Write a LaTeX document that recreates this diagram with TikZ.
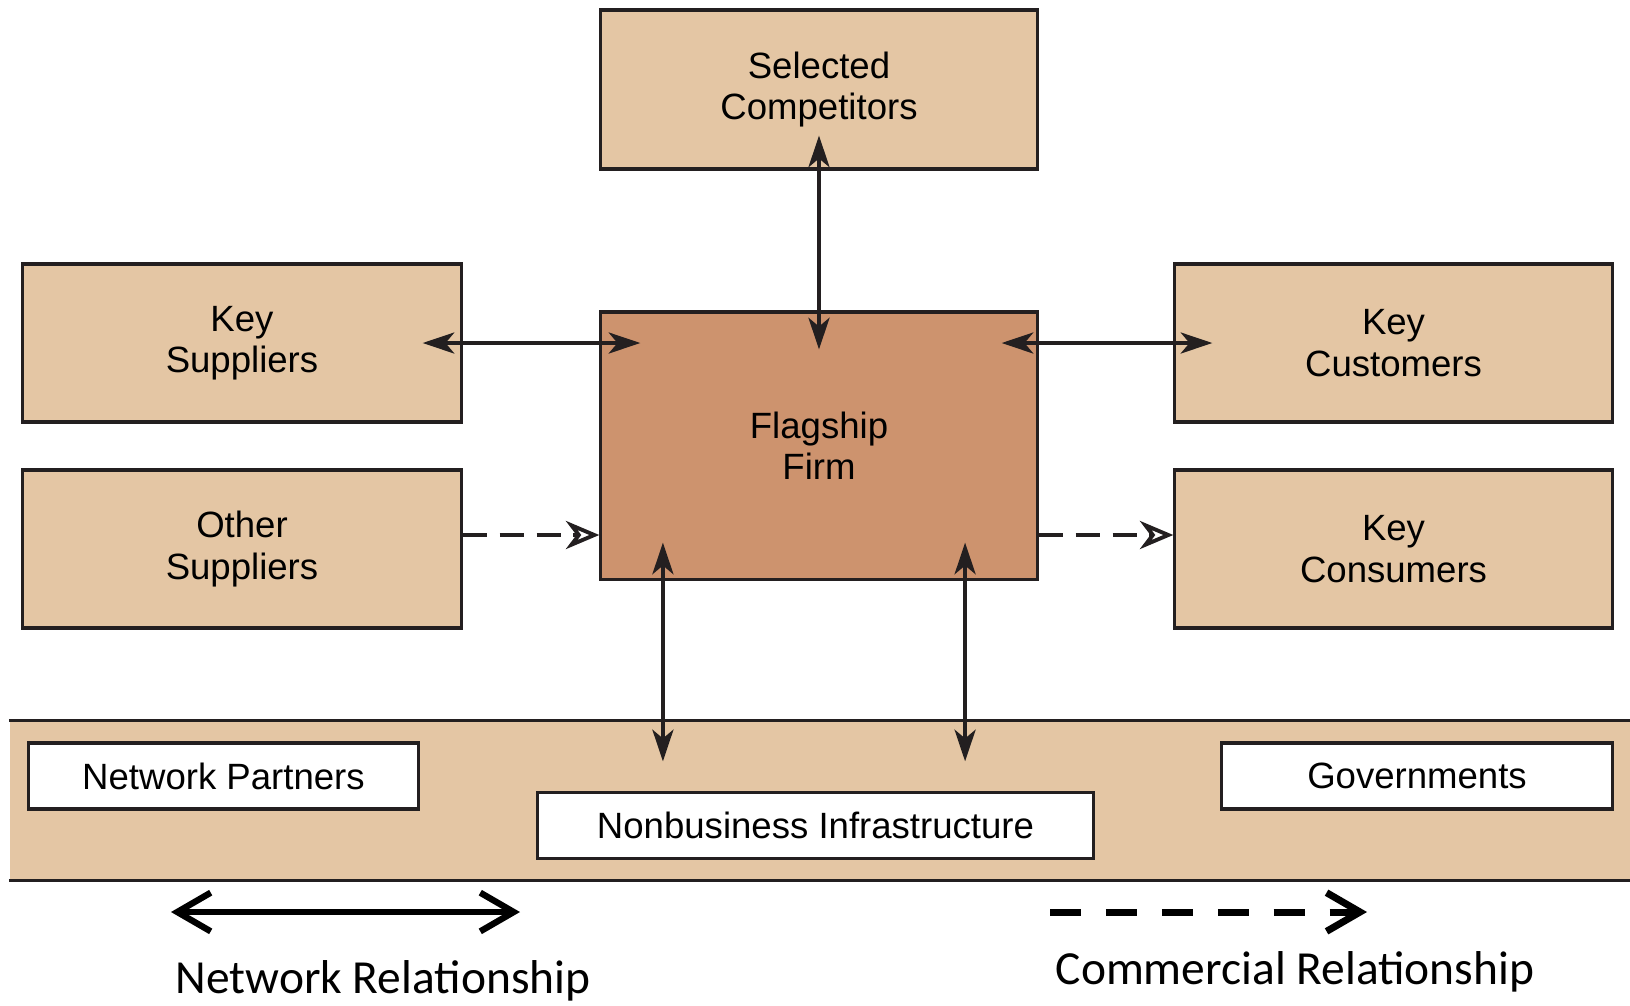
\documentclass[tikz,border=0pt]{standalone}
\usepackage{fontspec}
\setmainfont{Liberation Sans}
\newfontfamily\legendfont{Carlito}
\usetikzlibrary{arrows.meta}

\definecolor{tanlight}{HTML}{E4C6A4}
\definecolor{tandark}{HTML}{CD936E}
\definecolor{ink}{HTML}{231F20}

\tikzset{
  box/.style={draw=ink, line width=0.9pt, fill=tanlight, align=center, inner sep=0pt,
    font=\fontsize{10.4}{11.8}\selectfont},
  tag/.style={box, fill=white, minimum height=0.66cm},
  netrel/.style={draw=ink, line width=1pt,
    {Stealth[length=9pt,width=6pt,inset=2.5pt]}-{Stealth[length=9pt,width=6pt,inset=2.5pt]}},
  comrel/.style={draw=ink, line width=1pt, dash pattern=on 7pt off 3.5pt,
    -{Stealth[open,length=9.5pt,width=8pt,inset=3pt,line width=1.1pt]}},
  legendtext/.style={anchor=base, inner sep=0pt, font=\legendfont\fontsize{13.5}{15}\selectfont}
}

\begin{document}
\begin{tikzpicture}[x=0.01cm,y=-0.01cm]
\useasboundingbox (0,0) rectangle (1630,1005);

% business environment band
\node[fill=tanlight, minimum width=16.2cm, minimum height=1.59cm, inner sep=0pt] (env) at (820,800.5) {};
\draw[ink, line width=0.9pt] (env.north west) -- (env.north east);
\draw[ink, line width=0.9pt] (env.south west) -- (env.south east);

\node[tag, minimum width=3.89cm] (partners) at (223.5,776) {Network Partners};
\node[tag, minimum width=5.55cm] (infra) at (815.5,825.5) {Nonbusiness Infrastructure};
\node[tag, minimum width=3.90cm] (govs) at (1417,776) {Governments};

% firms
\node[box, minimum width=4.36cm, minimum height=1.59cm] (comp) at (819,89.5) {Selected\\Competitors};
\node[box, fill=tandark, minimum width=4.36cm, minimum height=2.67cm] (flag) at (819,445.5) {Flagship\\Firm};
\node[box, minimum width=4.38cm, minimum height=1.58cm] (ksup) at (242,343) {Key\\Suppliers};
\node[box, minimum width=4.38cm, minimum height=1.58cm] (osup) at (242,549) {Other\\Suppliers};
\node[box, minimum width=4.37cm, minimum height=1.58cm] (kcust) at (1393.5,343) {Key\\Customers};
\node[box, minimum width=4.37cm, minimum height=1.58cm] (kcons) at (1393.5,549) {Key\\Consumers};

% relationships
\draw[netrel, shorten <=-0.35cm, shorten >=-0.39cm] (comp.south) -- (flag.north);
\draw[netrel, shorten <=-0.40cm, shorten >=-0.41cm] (ksup.east) -- (ksup.east -| flag.west);
\draw[netrel, shorten <=-0.37cm, shorten >=-0.39cm] (kcust.west -| flag.east) -- (kcust.west);
\draw[netrel, shorten <=-0.38cm, shorten >=-0.41cm] ([xshift=-1.56cm]flag.south) -- ([xshift=-1.56cm]flag.south |- env.north);
\draw[netrel, shorten <=-0.38cm, shorten >=-0.41cm] ([xshift=1.46cm]flag.south) -- ([xshift=1.46cm]flag.south |- env.north);
\draw[comrel] ([yshift=0.14cm]osup.east) -- ([yshift=0.14cm]osup.east -| flag.west);
\draw[comrel] ([yshift=0.14cm]kcons.west -| flag.east) -- ([yshift=0.14cm]kcons.west);

% legend
\coordinate (netA) at (171,912);
\coordinate (netB) at (520,912);
\coordinate (comA) at (1050,912);
\coordinate (comB) at (1367,912);
\draw[line width=1.8pt, {Straight Barb[length=9.5pt,width=11pt]}-{Straight Barb[length=9.5pt,width=11pt]}] (netA) -- (netB);
\draw[line width=2pt, dash pattern=on 8.8pt off 7.1pt, -{Straight Barb[length=9.5pt,width=11pt]}] (comA) -- (comB);
\node[legendtext] (netlabel) at (383,993) {Network Relationship};
\node[legendtext] (comlabel) at (1295,984) {Commercial Relationship};
\end{tikzpicture}
\end{document}
